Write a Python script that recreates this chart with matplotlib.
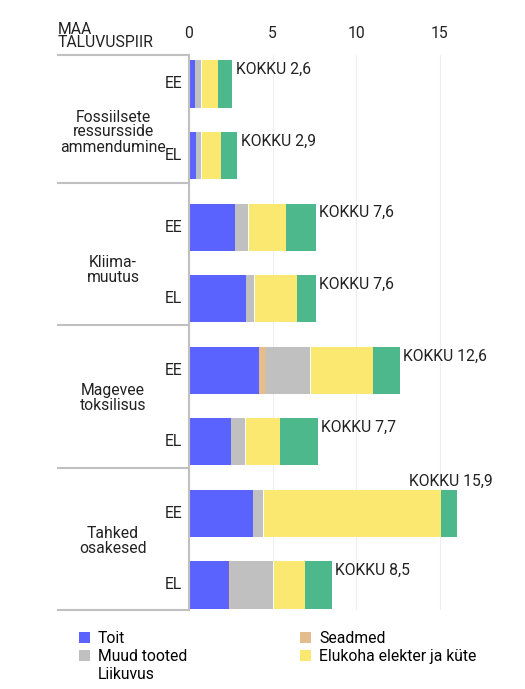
import matplotlib
matplotlib.use("Agg")
import matplotlib.pyplot as plt
import numpy as np

plt.rcParams["font.family"] = ["Roboto", "DejaVu Sans"]

groups = ["Fossiilsete\nressursside\nammendumine", "Kliima-\nmuutus", "Magevee\ntoksilisus", "Tahked\nosakesed"]
rows = ["EE", "EL"] * 4
toit = [0.35, 0.4, 2.75, 3.4, 4.2, 2.5, 3.85, 2.4]
seadmed = [0.0, 0.0, 0.0, 0.0, 0.4, 0.0, 0.0, 0.05]
muud = [0.35, 0.3, 0.8, 0.5, 2.65, 0.85, 0.6, 2.6]
liikuvus = [0.05, 0.05, 0.05, 0.05, 0.05, 0.05, 0.05, 0.05]
elukoha = [1.0, 1.15, 2.2, 2.5, 3.7, 2.05, 10.6, 1.85]
muu = [0.85, 1.0, 1.8, 1.15, 1.6, 2.25, 0.95, 1.6]
totals = ["2,6", "2,9", "7,6", "7,6", "12,6", "7,7", "15,9", "8,5"]

series = [("Toit", toit, "#5b63fe"), ("Seadmed", seadmed, "#e3bd8d"),
          ("Muud tooted", muud, "#c0c0c0"), ("Liikuvus", liikuvus, "#ffffff"),
          ("Elukoha elekter ja küte", elukoha, "#fbe870"), ("_muu", muu, "#4cb88c")]

fs = 11.3
fig = plt.figure(figsize=(5.25, 6.89), dpi=100)
W, H = 525, 689
ax = fig.add_axes([189 / W, 1 - 610 / H, (505 - 189) / W, (610 - 55) / H])
y = np.arange(len(rows))
left = np.zeros(len(rows))
for name, vals, col in series:
    ax.barh(y, vals, left=left, height=0.66, color=col, label=name)
    left += np.array(vals)
for i, t in enumerate(totals):
    if i == 6:
        ax.text(left[i] - 2.9, i - 0.45, f"KOKKU {t}", fontsize=fs, color="#222", va="center")
    else:
        ax.text(left[i] + 0.2, i - 0.2, f"KOKKU {t}", fontsize=fs, color="#222", va="center")

ax.set_xlim(0, 18.9)
ax.set_ylim(7.35, -0.405)
ax.set_xticks([0, 5, 10, 15])
ax.xaxis.tick_top()
ax.tick_params(axis="x", length=0, labelsize=fs, colors="#222", pad=10)
ax.set_yticks([])
ax.grid(axis="x", color="#eeeeee", lw=0.8)
ax.set_axisbelow(True)
for s in ["top", "right", "bottom"]:
    ax.spines[s].set_visible(False)
ax.spines["left"].set_color("#c0c0c0")
ax.spines["left"].set_linewidth(1.5)

for i, r in enumerate(rows):
    ax.text(-0.4, i, r, ha="right", va="center", fontsize=fs, color="#222")

for b in [55, 183, 325, 468, 610]:
    fig.add_artist(plt.Line2D([58 / W, 189 / W], [1 - b / H, 1 - b / H], color="#c0c0c0", lw=1.5))
centers = [132, 270, 398, 541]
for g, c in zip(groups, centers):
    fig.text(113 / W, 1 - c / H, g, ha="center", va="center", fontsize=fs, color="#222", linespacing=1.0)
fig.text(58 / W, 1 - 36 / H, "MAA\nTALUVUSPIIR", ha="left", va="center", fontsize=fs, color="#222", linespacing=0.9)

handles, labels = ax.get_legend_handles_labels()
order = [0, 2, 3, 1, 4]
leg = fig.legend([handles[k] for k in order], [labels[k] for k in order], ncol=2,
                 loc="upper left", bbox_to_anchor=(65 / W, 1 - 617 / H), frameon=False,
                 fontsize=fs, handlelength=0.7, handleheight=0.7, handletextpad=0.5,
                 columnspacing=7.2, labelspacing=0.2)
fig.savefig("out.png", dpi=100)
